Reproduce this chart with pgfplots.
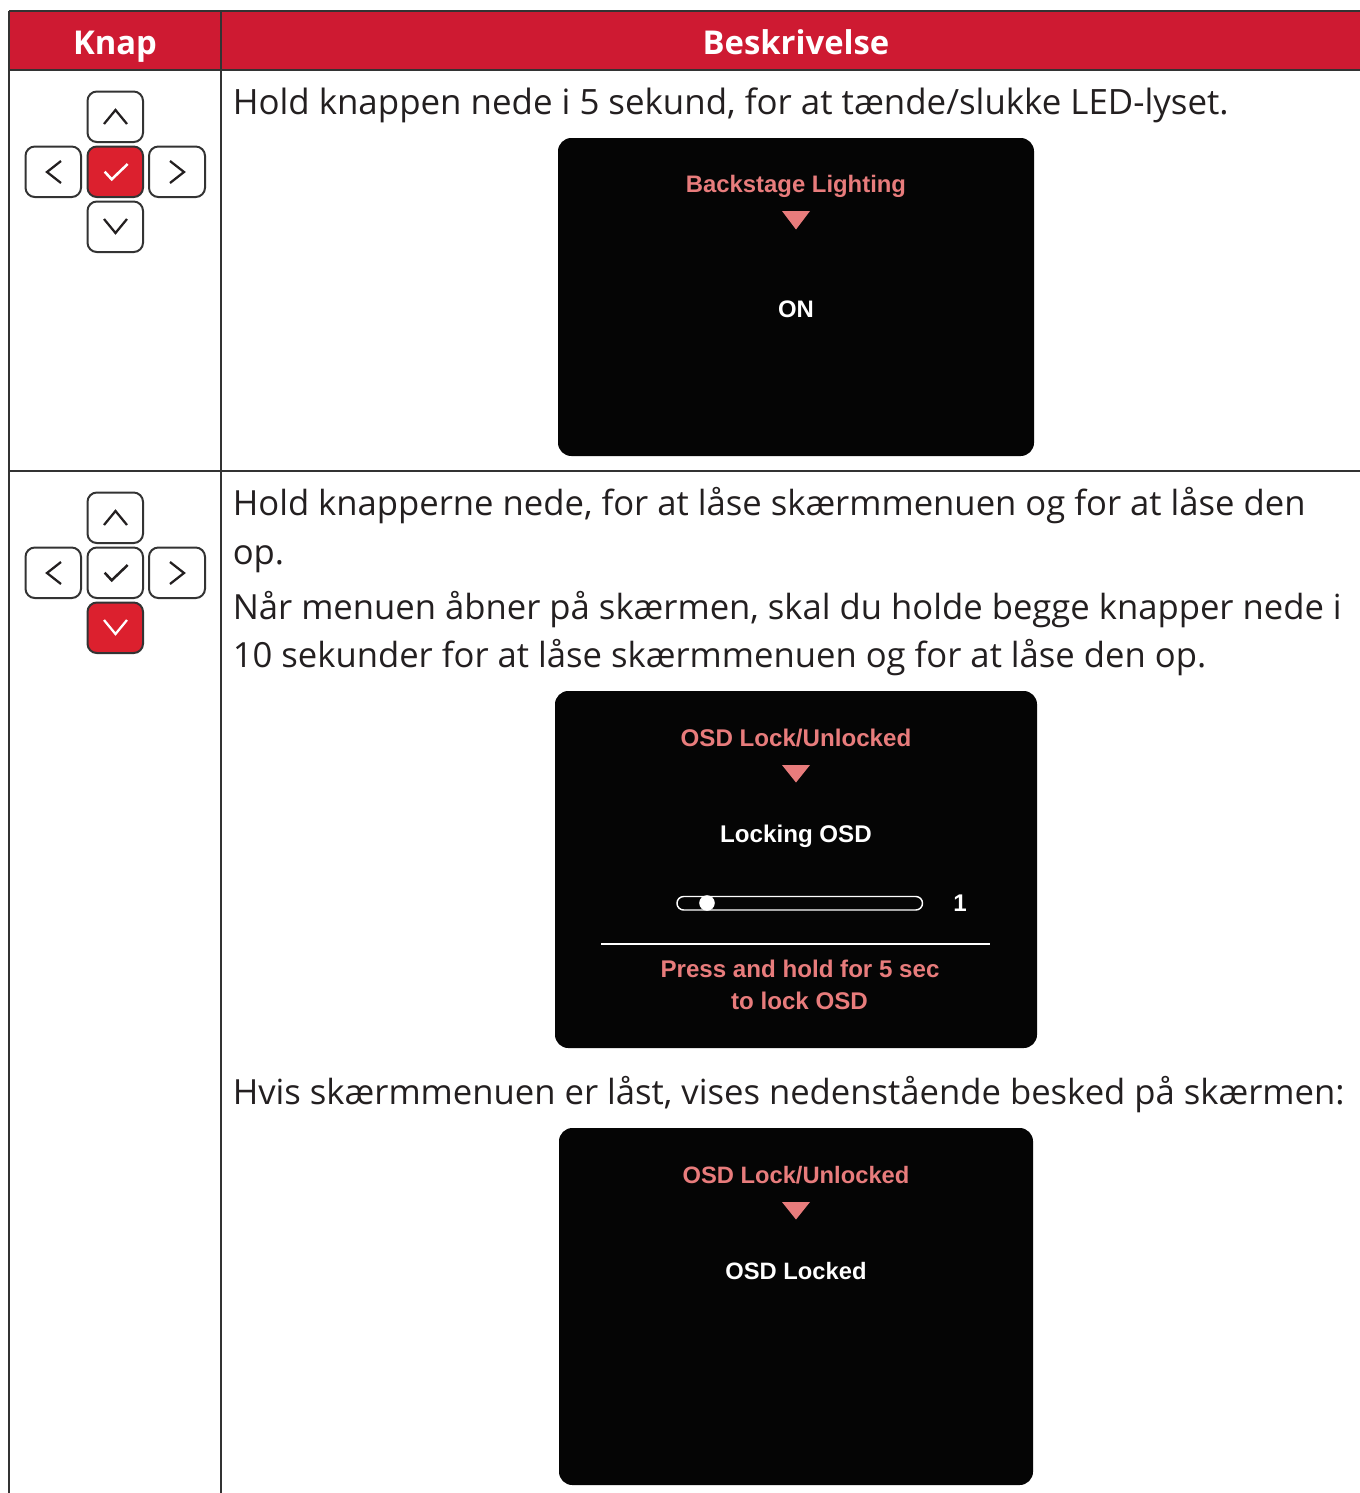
\documentclass[border=0pt]{standalone}
\usepackage{pgfplots}
\pgfplotsset{compat=1.18}
\usepackage{fontspec}
\setmainfont{Open Sans}
\newfontfamily\arl{Liberation Sans}
\definecolor{vsred}{HTML}{CE1A32}
\definecolor{btnred}{HTML}{DC202E}
\definecolor{pinkt}{HTML}{E87C7C}
\definecolor{scr}{HTML}{050505}
\definecolor{rulec}{HTML}{333333}
\definecolor{ink}{HTML}{231F20}
\newcommand{\bodya}[3]{\node[anchor=base west,inner sep=0pt,text=ink] at (axis cs:#1,#2) {\fontsize{26.15}{27}\selectfont #3};}
\newcommand{\body}[3]{\node[anchor=base west,inner sep=0pt,text=ink] at (axis cs:#1,#2) {\fontsize{25.98}{27}\selectfont #3};}
\newcommand{\head}[3]{\node[anchor=base,inner sep=0pt,text=white] at (axis cs:#1,#2) {\fontsize{24.6}{27}\selectfont\bfseries #3};}
\newcommand{\osd}[4]{\node[anchor=base,inner sep=0pt,text=#1] at (axis cs:#2,#3) {\arl\bfseries\fontsize{17.9}{18}\selectfont #4};}
\newcommand{\osdc}[4]{\node[anchor=base,inner sep=0pt,text=#1] at (axis cs:#2,#3) {\arl\bfseries\fontsize{18.1}{18}\selectfont #4};}
\newcommand{\osdb}[4]{\node[anchor=base,inner sep=0pt,text=#1] at (axis cs:#2,#3) {\arl\bfseries\fontsize{17.8}{18}\selectfont #4};}
\newcommand{\btn}[5]{\draw[rulec,line width=1.5pt,fill=#5,rounded corners=7pt] (axis cs:#1,#2) rectangle (axis cs:#3,#4);}
\newcommand{\scrn}[4]{\fill[scr,rounded corners=10pt] (axis cs:#1,#2) rectangle (axis cs:#3,#4);}
\newcommand{\tri}[3]{\addplot[fill=pinkt,draw=none,forget plot] coordinates {(#1,#2)(#1+28,#2)(#1+14,#3)} --cycle;}
\newcommand{\pad}[3]{%
 \btn{87.5}{91.5+#1}{143}{142+#1}{white}
 \btn{25.5}{146.5+#1}{81}{197+#1}{white}
 \btn{87.5}{146.5+#1}{143}{197+#1}{#2}
 \btn{149}{146.5+#1}{205}{197+#1}{white}
 \btn{87.5}{201.5+#1}{143}{252+#1}{#3}
 \draw[ink,line width=1.7pt] (axis cs:104,124+#1)--(axis cs:115.5,110+#1)--(axis cs:127,124+#1);
 \draw[ink,line width=1.7pt] (axis cs:61,161+#1)--(axis cs:47,172+#1)--(axis cs:61,183+#1);
 \draw[ink,line width=1.7pt] (axis cs:170,161+#1)--(axis cs:184,172+#1)--(axis cs:170,183+#1);
}
\begin{document}
\begin{tikzpicture}
\begin{axis}[
  at={(0,0)},anchor=south west,
  width=1020pt,height=1119.75pt,scale only axis,
  xmin=0,xmax=1360,ymin=0,ymax=1493,y dir=reverse,
  axis lines=none,clip=true,
]
% page background fixes the picture's extent
\addplot[fill=white,draw=none,forget plot] coordinates {(0,0)(1360,0)(1360,1493)(0,1493)} --cycle;
% header band
\addplot[fill=vsred,draw=none,forget plot] coordinates {(9,11)(1360,11)(1360,70)(9,70)} --cycle;
% table rules
\addplot[rulec,line width=1.9pt,forget plot] coordinates {(9,11)(1360,11)};
\addplot[rulec,line width=1.9pt,forget plot] coordinates {(9,70)(1360,70)};
\addplot[rulec,line width=1.1pt,forget plot] coordinates {(9,471)(1360,471)};
\addplot[rulec,line width=1.1pt,forget plot] coordinates {(9,11)(9,1493)};
\addplot[rulec,line width=1.1pt,forget plot] coordinates {(221,11)(221,1493)};
\head{115}{54}{Knap}
\head{796}{54}{Beskrivelse}
% pads
\pad{0}{btnred}{white}
\draw[white,line width=1.9pt] (axis cs:104.7,171.7)--(axis cs:111.7,179.3)--(axis cs:127.7,164);
\draw[ink,line width=1.7pt] (axis cs:104,219)--(axis cs:115.5,233)--(axis cs:127,219);
\pad{401}{white}{btnred}
\draw[ink,line width=1.9pt] (axis cs:104.7,572.7)--(axis cs:111.7,580.3)--(axis cs:127.7,565);
\draw[white,line width=1.7pt] (axis cs:104,620)--(axis cs:115.5,634)--(axis cs:127,620);
% body text
\bodya{232.5}{114}{Hold knappen nede i 5 sekund, for at tænde/slukke LED-lyset.}
\body{232.5}{515}{Hold knapperne nede, for at låse skærmmenuen og for at låse den}
\body{232.5}{564}{op.}
\body{232.5}{619}{Når menuen åbner på skærmen, skal du holde begge knapper nede i}
\body{232.5}{667}{10 sekunder for at låse skærmmenuen og for at låse den op.}
\body{232.5}{1104}{Hvis skærmmenuen er låst, vises nedenstående besked på skærmen:}
% screen 1
\scrn{558}{138}{1034}{456}
\osd{pinkt}{796}{192}{Backstage Lighting}
\tri{782}{211}{229.5}
\osd{white}{796}{317}{ON}
% screen 2
\scrn{555}{691}{1037}{1048}
\osdc{pinkt}{796}{746}{OSD Lock/Unlocked}
\tri{782}{765}{782.5}
\osdc{white}{796}{842}{Locking OSD}
\draw[white,line width=1.1pt,rounded corners=5pt] (axis cs:677,896.5) rectangle (axis cs:922.5,910);
\addplot[only marks,mark=*,mark size=5.6pt,mark options={fill=white,draw=white},forget plot] coordinates {(707,903)};
\osdc{white}{960}{911}{1}
\addplot[white,line width=1.5pt,forget plot] coordinates {(601,943.5)(990,943.5)};
\osdc{pinkt}{800}{977}{Press and hold for 5 sec}
\osdc{pinkt}{799.5}{1009}{to lock OSD}
% screen 3
\scrn{559}{1128}{1033}{1485}
\osdb{pinkt}{796}{1183}{OSD Lock/Unlocked}
\tri{782}{1202}{1219.5}
\osdb{white}{796}{1279}{OSD Locked}
\end{axis}
\end{tikzpicture}
\end{document}
